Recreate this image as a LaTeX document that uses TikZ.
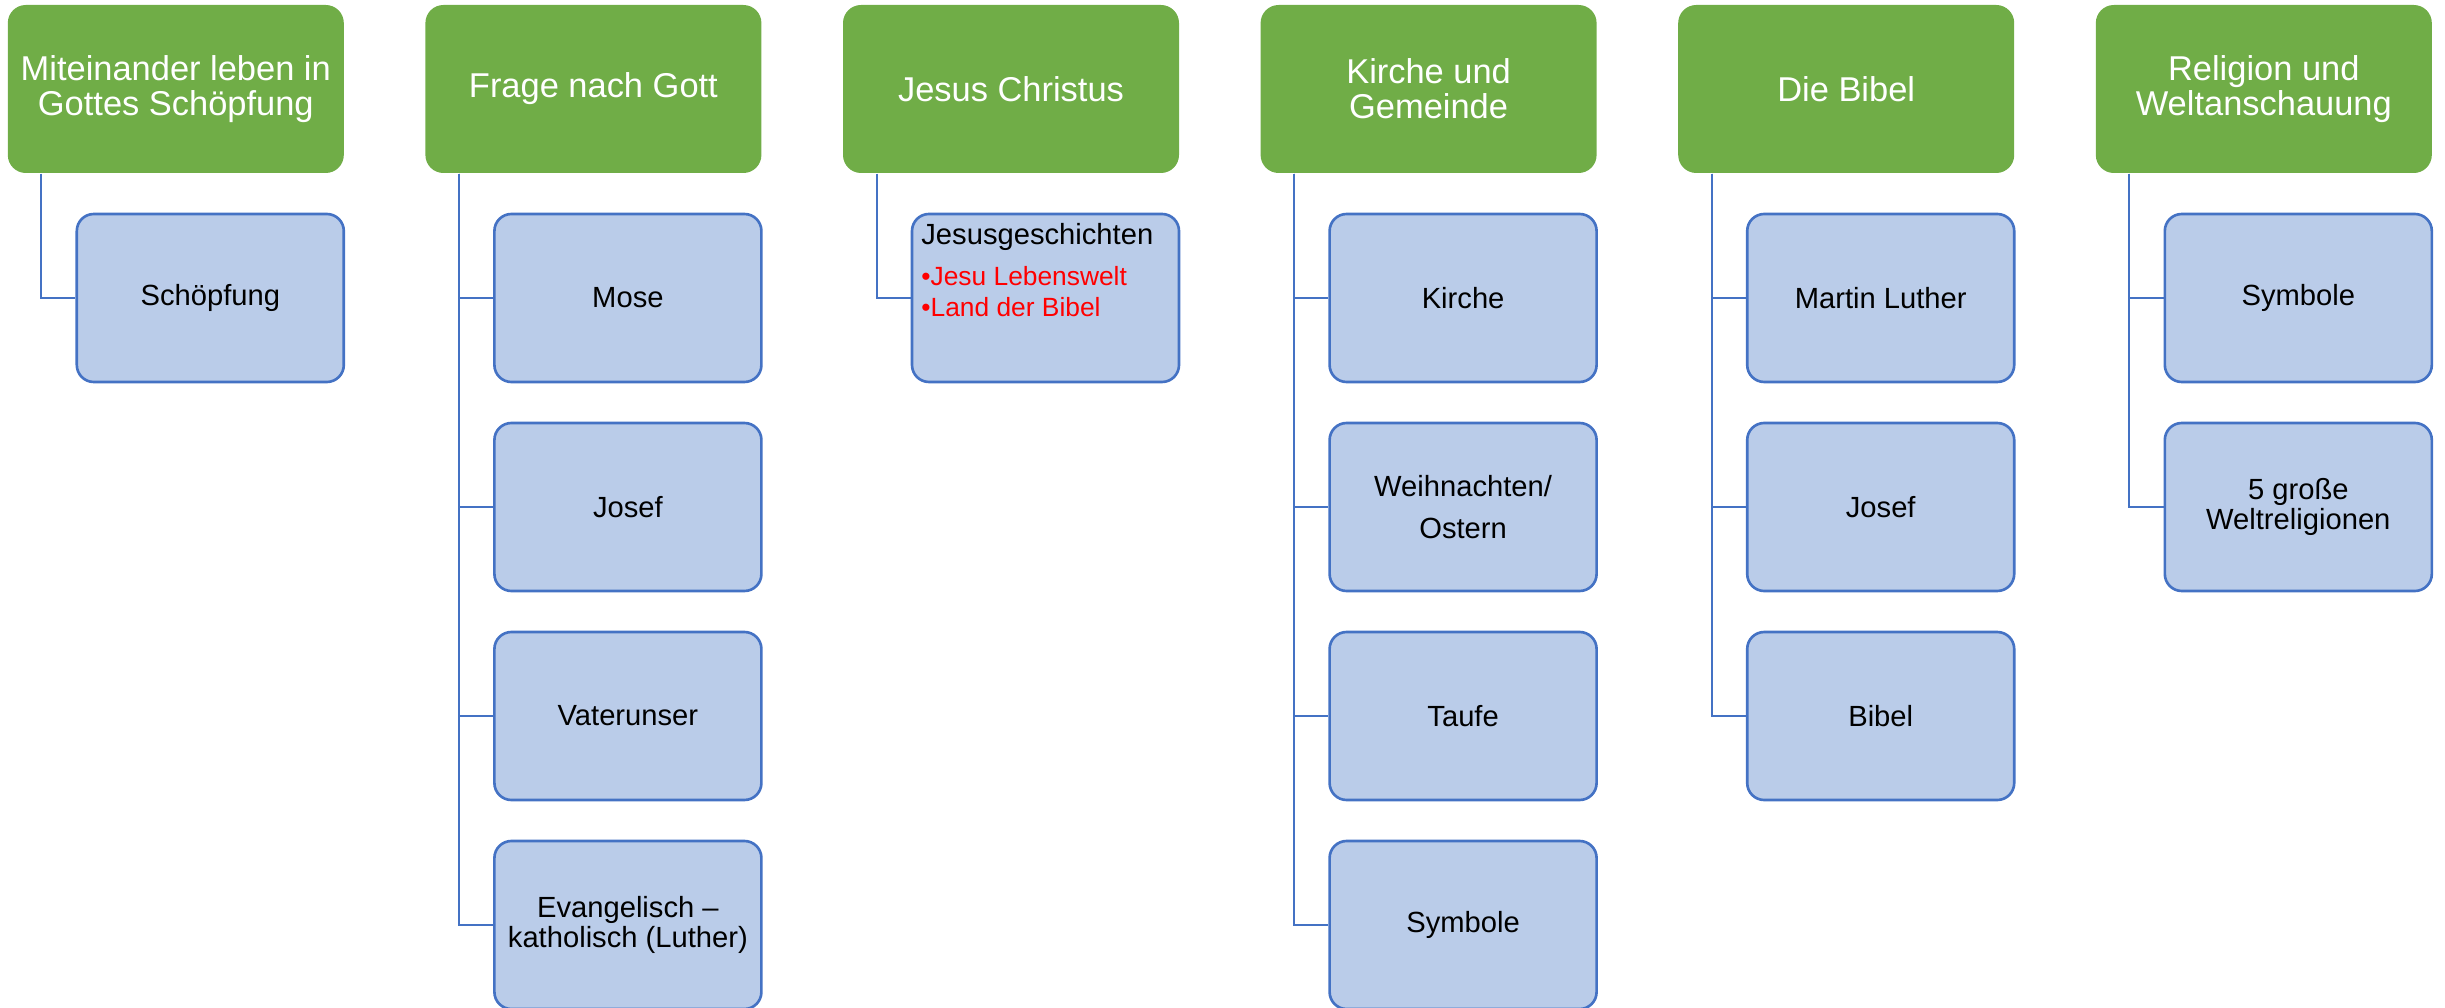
\documentclass[tikz,border=0pt]{standalone}
\usepackage{fontspec}
\setmainfont{Liberation Sans}
\usepackage{tikz}
\usetikzlibrary{calc}

\definecolor{headgreen}{HTML}{70AD47}
\definecolor{itemblue}{RGB}{186,204,233}
\definecolor{lineblue}{HTML}{4472C4}

\begin{document}
\begin{tikzpicture}[
  head/.style={rectangle, rounded corners=0.18cm, fill=headgreen, text=white,
    minimum width=3.36cm, minimum height=1.68cm, inner sep=0pt, align=center,
    font=\fontsize{9.8}{10}\selectfont},
  item/.style={rectangle, rounded corners=0.17cm, fill=itemblue, draw=lineblue,
    line width=0.75pt, minimum width=2.67cm, minimum height=1.68cm, inner sep=0pt,
    align=center, font=\fontsize{8.3}{8.7}\selectfont},
  link/.style={draw=lineblue, line width=0.6pt}
]

\useasboundingbox (0,0) rectangle (24.45,-10.08);

\node[head] (h1) at (1.758,-0.89) {Miteinander leben in\\Gottes Schöpfung};

\node[head] (h2) at (5.934,-0.89) {Frage nach Gott};

\node[head] (h3) at (10.110,-0.89) {Jesus Christus};

\node[head] (h4) at (14.286,-0.89) {Kirche und\\Gemeinde};

\node[head] (h5) at (18.462,-0.89) {Die Bibel};

\node[head] (h6) at (22.638,-0.89) {Religion und\\Weltanschauung};

\node[item] (schoepf) at (2.103,-2.98) {Schöpfung};

\node[item] (mose) at (6.279,-2.98) {Mose};
\node[item] (josef) at (6.279,-5.07) {Josef};
\node[item] (vater) at (6.279,-7.16) {Vaterunser};
\node[item] (evang) at (6.279,-9.25) {Evangelisch –\\katholisch (Luther)};

\node[item] (jesus) at (10.455,-2.98) {};
\node[anchor=north west, align=left, inner sep=0pt,
  font=\fontsize{8.3}{8.8}\selectfont] (jesust) at ([shift={(0.10,-0.095)}]jesus.north west)
  {Jesusgeschichten\\[2.9pt]{\color{red}\fontsize{7.5}{8.8}\selectfont •Jesu Lebenswelt}\\{\color{red}\fontsize{7.5}{8.8}\selectfont •Land der Bibel}};

\node[item] (kirche) at (14.631,-2.98) {Kirche};
\node[item] (weih) at (14.631,-5.07) {Weihnachten/\\[3.4pt]Ostern};
\node[item] (taufe) at (14.631,-7.16) {Taufe};
\node[item] (symb) at (14.631,-9.25) {Symbole};

\node[item] (luther) at (18.807,-2.98) {Martin Luther};
\node[item] (josef2) at (18.807,-5.07) {Josef};
\node[item] (bibel) at (18.807,-7.16) {Bibel};

\node[item] (symb2) at (22.983,-2.98) {Symbole};
\node[item] (welt) at (22.983,-5.07) {5 große\\Weltreligionen};

\draw[link] ([xshift=0.343cm]h1.south west) |- (schoepf.west);
\draw[link] ([xshift=0.343cm]h2.south west) |- (mose.west);
\draw[link] ([xshift=0.343cm]h2.south west) |- (josef.west);
\draw[link] ([xshift=0.343cm]h2.south west) |- (vater.west);
\draw[link] ([xshift=0.343cm]h2.south west) |- (evang.west);
\draw[link] ([xshift=0.343cm]h3.south west) |- (jesus.west);
\draw[link] ([xshift=0.343cm]h4.south west) |- (kirche.west);
\draw[link] ([xshift=0.343cm]h4.south west) |- (weih.west);
\draw[link] ([xshift=0.343cm]h4.south west) |- (taufe.west);
\draw[link] ([xshift=0.343cm]h4.south west) |- (symb.west);
\draw[link] ([xshift=0.343cm]h5.south west) |- (luther.west);
\draw[link] ([xshift=0.343cm]h5.south west) |- (josef2.west);
\draw[link] ([xshift=0.343cm]h5.south west) |- (bibel.west);
\draw[link] ([xshift=0.343cm]h6.south west) |- (symb2.west);
\draw[link] ([xshift=0.343cm]h6.south west) |- (welt.west);

\end{tikzpicture}
\end{document}
